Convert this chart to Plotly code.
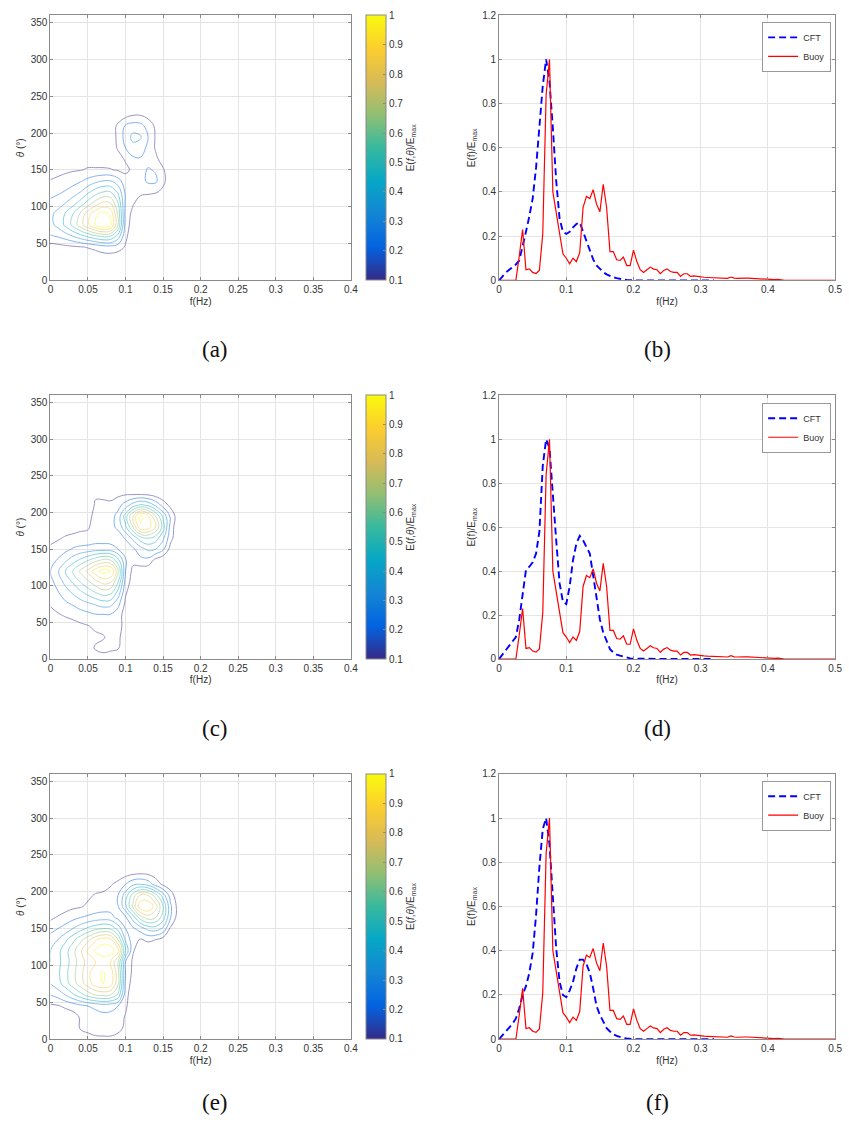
import plotly.graph_objects as go

# ---------------- data ----------------
f_grid = [0, 0.01, 0.02, 0.03, 0.04, 0.05, 0.06, 0.07, 0.08, 0.09, 0.10,
          0.11, 0.12, 0.13, 0.14, 0.15, 0.16, 0.17, 0.18]
theta_grid = [0, 15, 30, 45, 60, 75, 90, 105, 120, 135, 150, 165, 180, 195, 210, 225, 240]

grid_a = [
    [0, 0, 0, 0, 0, 0, 0, 0, 0, 0, 0, 0, 0, 0, 0, 0, 0, 0, 0],
    [0, 0, 0, 0, 0, .01, .01, .01, .01, .01, 0, 0, 0, 0, 0, 0, 0, 0, 0],
    [0, 0, .01, .02, .03, .04, .05, .05, .05, .04, .02, 0, 0, 0, 0, 0, 0, 0, 0],
    [.05, .06, .07, .08, .09, .105, .12, .15, .16, .14, .09, .03, .01, 0, 0, 0, 0, 0, 0],
    [.19, .21, .25, .30, .36, .42, .48, .52, .50, .36, .12, .04, .01, 0, 0, 0, 0, 0, 0],
    [.27, .33, .42, .53, .65, .78, .90, .97, .92, .60, .15, .05, .01, 0, 0, 0, 0, 0, 0],
    [.28, .33, .41, .50, .62, .76, .88, .94, .88, .58, .16, .07, .02, 0, 0, 0, 0, 0, 0],
    [.23, .26, .30, .36, .44, .54, .64, .72, .70, .50, .18, .11, .06, .03, .01, 0, 0, 0, 0],
    [.16, .18, .21, .25, .30, .38, .45, .50, .50, .38, .18, .13, .12, .12, .11, .08, .03, 0, 0],
    [.105, .12, .14, .16, .19, .23, .27, .30, .30, .24, .14, .13, .16, .22, .22, .12, .05, .01, 0],
    [.06, .07, .08, .09, .095, .11, .11, .11, .105, .09, .08, .12, .16, .21, .19, .11, .04, 0, 0],
    [.02, .03, .03, .04, .05, .06, .06, .06, .06, .07, .11, .18, .19, .16, .12, .06, .02, 0, 0],
    [0, .01, .01, .02, .02, .03, .03, .04, .05, .11, .20, .27, .26, .17, .09, .03, 0, 0, 0],
    [0, 0, 0, .01, .01, .01, .02, .02, .05, .12, .24, .33, .31, .20, .09, .02, 0, 0, 0],
    [0, 0, 0, 0, 0, .01, .01, .02, .04, .12, .21, .24, .23, .16, .08, .01, 0, 0, 0],
    [0, 0, 0, 0, 0, 0, 0, .01, .02, .03, .06, .09, .09, .06, .02, 0, 0, 0, 0],
    [0, 0, 0, 0, 0, 0, 0, 0, 0, 0, 0, 0, 0, 0, 0, 0, 0, 0, 0],
]

grid_c = [
    [0, 0, 0, 0, 0, .02, .05, .06, .05, .03, 0, 0, 0, 0, 0, 0, 0, 0, 0],
    [0, 0, 0, 0, .01, .06, .11, .13, .12, .11, .03, 0, 0, 0, 0, 0, 0, 0, 0],
    [0, 0, 0, .01, .03, .06, .08, .09, .13, .12, .05, 0, 0, 0, 0, 0, 0, 0, 0],
    [.03, .04, .05, .06, .08, .095, .12, .14, .16, .14, .06, .01, 0, 0, 0, 0, 0, 0, 0],
    [.07, .09, .11, .13, .15, .17, .19, .19, .19, .14, .06, .01, 0, 0, 0, 0, 0, 0, 0],
    [.11, .14, .18, .21, .25, .28, .31, .34, .33, .23, .08, .02, .01, 0, 0, 0, 0, 0, 0],
    [.14, .19, .25, .31, .37, .43, .49, .54, .52, .36, .11, .04, .01, 0, 0, 0, 0, 0, 0],
    [.17, .24, .33, .41, .50, .58, .66, .73, .71, .50, .16, .05, .02, .01, 0, 0, 0, 0, 0],
    [.20, .29, .40, .51, .62, .73, .86, .94, .92, .63, .20, .07, .04, .03, .02, .01, 0, 0, 0],
    [.16, .21, .28, .35, .42, .49, .56, .62, .60, .43, .21, .13, .17, .17, .07, .02, 0, 0, 0],
    [.12, .14, .17, .21, .23, .24, .26, .26, .25, .20, .13, .18, .26, .32, .30, .22, .06, 0, 0],
    [.07, .09, .11, .12, .13, .13, .14, .14, .14, .15, .21, .33, .45, .50, .45, .32, .13, .03, 0],
    [.03, .05, .06, .07, .08, .09, .14, .15, .17, .22, .38, .60, .88, .85, .70, .45, .15, .03, 0],
    [0, .01, .02, .03, .05, .08, .12, .13, .15, .24, .45, .72, .93, .82, .60, .38, .18, .04, 0],
    [0, 0, 0, .01, .02, .05, .11, .12, .12, .16, .25, .35, .42, .38, .28, .16, .07, .01, 0],
    [0, 0, 0, 0, 0, .02, .09, .08, .07, .08, .09, .09, .09, .08, .05, .02, 0, 0, 0],
    [0, 0, 0, 0, 0, 0, 0, 0, 0, 0, 0, 0, 0, 0, 0, 0, 0, 0, 0],
]

grid_e = [
    [0, 0, 0, 0, .03, .06, .08, .08, .08, .06, .02, 0, 0, 0, 0, 0, 0, 0, 0],
    [0, 0, 0, .04, .11, .13, .14, .15, .15, .13, .08, 0, 0, 0, 0, 0, 0, 0, 0],
    [0, .01, .03, .06, .11, .14, .16, .17, .17, .15, .09, .01, 0, 0, 0, 0, 0, 0, 0],
    [.08, .09, .12, .14, .17, .20, .22, .24, .23, .20, .12, .02, 0, 0, 0, 0, 0, 0, 0],
    [.20, .24, .30, .38, .46, .54, .60, .62, .60, .48, .14, .03, 0, 0, 0, 0, 0, 0, 0],
    [.30, .36, .45, .55, .65, .75, .85, .90, .85, .62, .17, .05, .01, 0, 0, 0, 0, 0, 0],
    [.32, .38, .47, .57, .67, .77, .87, .91, .87, .64, .20, .07, .02, 0, 0, 0, 0, 0, 0],
    [.30, .37, .45, .55, .65, .74, .80, .83, .80, .60, .20, .08, .02, 0, 0, 0, 0, 0, 0],
    [.30, .37, .46, .57, .68, .82, .92, .97, .95, .85, .40, .11, .04, .02, 0, 0, 0, 0, 0],
    [.25, .30, .38, .47, .57, .67, .78, .85, .83, .60, .28, .14, .09, .12, .10, .05, .01, 0, 0],
    [.16, .20, .24, .30, .36, .42, .47, .50, .48, .36, .20, .18, .25, .33, .35, .28, .08, .02, 0],
    [.08, .11, .14, .17, .20, .22, .24, .25, .24, .17, .18, .35, .55, .65, .60, .45, .20, .05, 0],
    [.02, .04, .06, .08, .09, .12, .14, .15, .15, .19, .38, .62, .88, .90, .75, .50, .22, .06, 0],
    [0, .01, .02, .03, .05, .08, .11, .12, .14, .20, .35, .55, .72, .70, .55, .35, .15, .03, 0],
    [0, 0, 0, 0, .01, .03, .05, .06, .09, .13, .20, .28, .30, .26, .16, .08, .04, 0, 0],
    [0, 0, 0, 0, 0, 0, 0, .01, .02, .04, .06, .08, .09, .08, .05, .02, .01, 0, 0],
    [0, 0, 0, 0, 0, 0, 0, 0, 0, 0, 0, 0, 0, 0, 0, 0, 0, 0, 0],
]

buoy_f = [0.000, 0.005, 0.010, 0.015, 0.020, 0.025, 0.030, 0.035, 0.040, 0.045,
          0.050, 0.055, 0.060, 0.065, 0.070, 0.075, 0.080, 0.085, 0.090, 0.095,
          0.100, 0.105, 0.110, 0.115, 0.120, 0.125, 0.130, 0.135, 0.140, 0.145,
          0.150, 0.155, 0.160, 0.165, 0.170, 0.175, 0.180, 0.185, 0.190, 0.195,
          0.200, 0.205, 0.210, 0.215, 0.220, 0.225, 0.230, 0.235, 0.240, 0.245,
          0.250, 0.255, 0.260, 0.265, 0.270, 0.275, 0.280, 0.285, 0.290, 0.295,
          0.300, 0.305, 0.310, 0.315, 0.320, 0.325, 0.330, 0.335, 0.340, 0.345,
          0.350, 0.355, 0.360, 0.365, 0.370, 0.375, 0.380, 0.385, 0.390, 0.395,
          0.400, 0.405, 0.410, 0.415, 0.420, 0.425, 0.500]
buoy_e = [0, 0, 0, 0, 0, 0, 0.11, 0.23, 0.048, 0.052,
          0.036, 0.031, 0.046, 0.21, 0.84, 1.0, 0.40, 0.31, 0.21, 0.12,
          0.10, 0.075, 0.10, 0.085, 0.125, 0.33, 0.38, 0.37, 0.41, 0.345,
          0.31, 0.435, 0.33, 0.13, 0.13, 0.093, 0.09, 0.105, 0.067, 0.067,
          0.137, 0.085, 0.048, 0.036, 0.048, 0.06, 0.051, 0.048, 0.03, 0.045,
          0.052, 0.04, 0.036, 0.036, 0.018, 0.03, 0.03, 0.018, 0.02, 0.017,
          0.015, 0.014, 0.013, 0.012, 0.012, 0.012, 0.011, 0.010, 0.009, 0.015,
          0.010, 0.009, 0.008, 0.010, 0.010, 0.009, 0.007, 0.005, 0.004, 0.004,
          0.004, 0.003, 0.003, 0.004, 0.003, 0.0, 0.0]

cft_f = [0.000, 0.005, 0.010, 0.015, 0.020, 0.025, 0.030, 0.035, 0.040, 0.045,
         0.050, 0.055, 0.060, 0.065, 0.070, 0.075, 0.080, 0.085, 0.090, 0.095,
         0.100, 0.105, 0.110, 0.115, 0.120, 0.125, 0.130, 0.135, 0.140, 0.145,
         0.150, 0.155, 0.160, 0.165, 0.170, 0.175, 0.180, 0.185, 0.190, 0.195,
         0.200, 0.250, 0.320]
cft_b = [0, .02, .035, .048, .06, .072, .09, .15, .22, .29,
         .37, .51, .70, .88, 1.0, .90, .69, .45, .28, .22,
         .21, .22, .24, .255, .262, .22, .17, .13, .095, .068,
         .05, .037, .027, .02, .014, .01, .006, .004, .002, .001,
         0, 0, 0]
cft_d = [0, .02, .04, .058, .075, .10, .18, .30, .405, .42,
         .44, .48, .58, .88, 1.0, .96, .77, .54, .345, .26,
         .25, .33, .45, .525, .56, .54, .51, .48, .38, .285,
         .18, .12, .083, .045, .03, .02, .015, .01, .006, .003,
         .001, 0, 0]
cft_ff = [0, .017, .034, .05, .07, .094, .14, .20, .24, .30,
          .39, .56, .78, .95, 1.0, .88, .645, .41, .26, .20,
          .19, .22, .26, .32, .36, .36, .34, .30, .23, .15,
          .11, .08, .05, .035, .022, .015, .009, .005, .003, .001,
          0, 0, 0]

cbar_ticks = [0.1, 0.2, 0.3, 0.4, 0.5, 0.6, 0.7, 0.8, 0.9, 1.0]
cbar_labels = ["0.1", "0.2", "0.3", "0.4", "0.5", "0.6", "0.7", "0.8", "0.9", "1"]
left_xticks = [0, 0.05, 0.1, 0.15, 0.2, 0.25, 0.3, 0.35, 0.4]
left_yticks = [0, 50, 100, 150, 200, 250, 300, 350]
right_xticks = [0, 0.1, 0.2, 0.3, 0.4, 0.5]
right_yticks = [0, 0.2, 0.4, 0.6, 0.8, 1.0, 1.2]
captions = ["(a)", "(b)", "(c)", "(d)", "(e)", "(f)"]

# ---------------- style ----------------
W, H = 849, 1131
parula = [[0, '#352a87'], [0.125, '#0363e1'], [0.25, '#1485d4'], [0.375, '#06a7c6'],
          [0.5, '#38b99e'], [0.625, '#92bf73'], [0.75, '#d9ba56'], [0.875, '#fcce2e'],
          [1, '#f9fb0e']]
FONT = "Liberation Sans, Arial, sans-serif"
AXC = '#8a8a8a'
GRIDC = '#e4e4e4'
TXT = '#333333'

rows_px = [(9.3, 277.3), (393.5, 660.0), (776.0, 1044.3)]
rows = [[1 - b / H, 1 - t / H] for t, b in rows_px]
left_dom = [48 / W, 352 / W]
right_dom = [502 / W, 842 / W]
cap_y = [347, 730, 1108]
legend_top = [16, 401, 783]

fig = go.Figure()

def axis_common():
    return dict(showline=True, linecolor=AXC, linewidth=1, mirror='ticks',
                ticks='inside', ticklen=3, tickcolor=AXC,
                showgrid=True, gridcolor=GRIDC, gridwidth=1, zeroline=False,
                tickfont=dict(family=FONT, size=10, color=TXT))

grids = [grid_a, grid_c, grid_e]
cfts = [cft_b, cft_d, cft_ff]
layout_axes = {}
for r in range(3):
    xl = 2 * r + 1
    xr = 2 * r + 2
    xl_name = 'x' if xl == 1 else f'x{xl}'
    yl_name = 'y' if xl == 1 else f'y{xl}'
    xr_name = f'x{xr}'
    yr_name = f'y{xr}'

    # contour (lightened lines, as in the reference)
    fig.add_trace(go.Contour(
        x=f_grid, y=theta_grid, z=grids[r], xaxis=xl_name, yaxis=yl_name,
        zmin=0.1, zmax=1.0, colorscale=parula, showscale=False,
        contours=dict(start=0.1, end=0.9, size=0.1, coloring='lines'),
        line=dict(width=1, smoothing=1.2), opacity=0.5,
        hoverinfo='skip', showlegend=False))
    # colorbar holder
    fig.add_trace(go.Scatter(
        x=[-1, -1], y=[-100, -100], xaxis=xl_name, yaxis=yl_name, mode='markers',
        marker=dict(size=1, opacity=0, color=[0.1, 1.0], colorscale=parula,
                    cmin=0.1, cmax=1.0, showscale=True,
                    colorbar=dict(x=367 / W, xanchor='left', thickness=20, thicknessmode='pixels',
                                  y=(rows[r][0] + rows[r][1]) / 2, yanchor='middle',
                                  len=rows[r][1] - rows[r][0], lenmode='fraction',
                                  tickvals=cbar_ticks, ticktext=cbar_labels,
                                  ticks='inside', ticklen=3, tickcolor=AXC,
                                  outlinecolor=AXC, outlinewidth=1, xpad=0, ypad=0,
                                  tickfont=dict(family=FONT, size=10, color=TXT),
                                  title=dict(text='E(<i>f</i>,<i>θ</i>)/E<sub>max</sub>', side='right',
                                             font=dict(family=FONT, size=10, color=TXT)))),
        hoverinfo='skip', showlegend=False))

    leg = 'legend' if r == 0 else f'legend{r + 1}'
    fig.add_trace(go.Scatter(x=cft_f, y=cfts[r], xaxis=xr_name, yaxis=yr_name, mode='lines',
                             name='CFT', line=dict(color='#0000ff', width=1.9, dash='7px,4px'),
                             legend=leg))
    fig.add_trace(go.Scatter(x=buoy_f, y=buoy_e, xaxis=xr_name, yaxis=yr_name, mode='lines',
                             name='Buoy', line=dict(color='#ff0000', width=1.2),
                             legend=leg))

    key_xl = 'xaxis' if xl == 1 else f'xaxis{xl}'
    key_yl = 'yaxis' if xl == 1 else f'yaxis{xl}'
    layout_axes[key_xl] = dict(axis_common(), domain=left_dom, anchor=yl_name,
                               range=[0, 0.4], tickvals=left_xticks,
                               title=dict(text='f(Hz)', standoff=3,
                                          font=dict(family=FONT, size=10, color=TXT)))
    layout_axes[key_yl] = dict(axis_common(), domain=rows[r], anchor=xl_name,
                               range=[0, 360], tickvals=left_yticks,
                               title=dict(text='<i>θ</i> (°)', standoff=4,
                                          font=dict(family=FONT, size=10, color=TXT)))
    layout_axes[f'xaxis{xr}'] = dict(axis_common(), domain=right_dom, anchor=yr_name,
                                     range=[0, 0.5], tickvals=right_xticks,
                                     title=dict(text='f(Hz)', standoff=3,
                                                font=dict(family=FONT, size=10, color=TXT)))
    layout_axes[f'yaxis{xr}'] = dict(axis_common(), domain=rows[r], anchor=xr_name,
                                     range=[0, 1.2], tickvals=right_yticks,
                                     title=dict(text='E(f)/E<sub>max</sub>', standoff=4,
                                                font=dict(family=FONT, size=10, color=TXT)))
    layout_axes[leg] = dict(x=838 / W, xanchor='right', y=1 - legend_top[r] / H, yanchor='top',
                            bgcolor='white', bordercolor='#999999', borderwidth=1,
                            font=dict(family=FONT, size=9, color=TXT),
                            itemwidth=30, tracegroupgap=0)

annotations = []
for i, cap in enumerate(captions):
    cx = 215 if i % 2 == 0 else 662
    cy = cap_y[i // 2]
    annotations.append(dict(text=cap, x=cx / W, y=1 - cy / H, xref='paper', yref='paper',
                            xanchor='center', yanchor='middle', showarrow=False,
                            font=dict(family='Liberation Serif, DejaVu Serif, serif', size=23,
                                      color='#111111')))

fig.update_layout(width=W, height=H, margin=dict(l=0, r=0, t=0, b=0),
                  paper_bgcolor='white', plot_bgcolor='white',
                  annotations=annotations, **layout_axes)

fig.write_html("out.html")
